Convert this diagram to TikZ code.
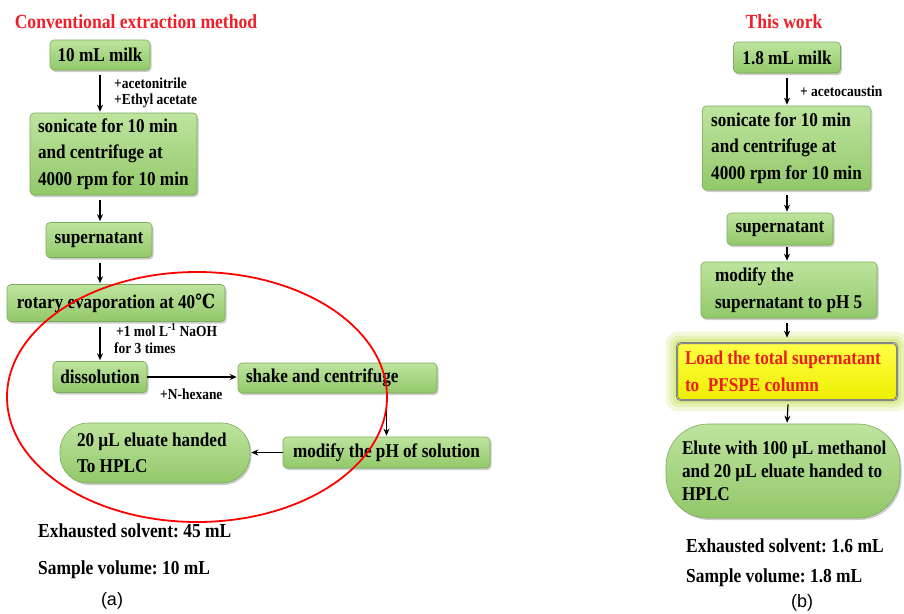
\documentclass[tikz,border=0pt]{standalone}
\usepackage{fontspec}
\setmainfont{Liberation Serif}[FakeStretch=0.88]
\setsansfont{Liberation Sans}
\newfontfamily\dejavu{DejaVu Serif}[FakeStretch=0.85]
\usetikzlibrary{arrows.meta,shadows,calc,backgrounds}
\definecolor{gtop}{RGB}{190,228,158}
\definecolor{gbot}{RGB}{146,200,106}
\definecolor{gline}{RGB}{122,172,90}
\definecolor{titred}{RGB}{240,30,40}
\definecolor{glow}{RGB}{205,230,110}
\newcommand\lw[2]{\makebox[#1][l]{#2}}
\frenchspacing
\begin{document}
\begin{tikzpicture}[x=1pt,y=-1pt,
  gbox/.style={draw=gline, line width=0.6pt, rounded corners=4pt,
    top color=gtop, bottom color=gbot,
    drop shadow={shadow xshift=1.5pt, shadow yshift=-2pt, fill=black!40, opacity=0.5},
    font=\fontsize{19.5}{26.5}\selectfont\bfseries, inner ysep=0pt, align=left},
  pill/.style={gbox, rounded corners=#1},
  arr/.style={-{Stealth[length=7pt,width=6pt]}, line width=1.2pt, shorten <=5pt, shorten >=1pt},
  lab/.style={font=\fontsize{15.3}{18}\selectfont\bfseries, anchor=west, inner sep=0pt, align=left},
  title/.style={font=\fontsize{20}{24}\selectfont\bfseries, text=titred, inner sep=0pt},
  foot/.style={font=\fontsize{19.8}{24}\selectfont\bfseries, anchor=west, inner sep=0pt},
  sub/.style={font=\sffamily\fontsize{18}{22}\selectfont, inner sep=0pt}
]
\useasboundingbox (0,0) rectangle (904,613);

% ---------- (a) ----------
\node[title] (tA) at (136,22) {Conventional extraction method};
\node[gbox, minimum width=100pt, minimum height=30pt] (milkA) at (100,55) {10 mL milk};
\node[gbox, inner xsep=8pt, minimum height=82pt] (sonA) at (113.5,154) {\lw{151pt}{sonicate for 10 min}\\and centrifuge at\\4000 rpm for 10 min};
\node[gbox, minimum width=106pt, minimum height=35pt] (supA) at (99,240) {supernatant};
\node[gbox, minimum width=218pt, minimum height=37pt] (rotA) at (116,303) {rotary evaporation at 40{\dejavu ℃}};
\node[gbox, minimum width=94pt, minimum height=31pt] (disA) at (100,377) {dissolution};
\node[gbox, inner xsep=8pt, minimum height=30pt] (shakeA) at (337.5,378) {\lw{183pt}{shake and centrifuge}};
\node[gbox, minimum width=207pt, minimum height=31pt] (modA) at (386.5,452.5) {modify the pH of solution};
\node[pill=28pt, inner xsep=17pt, minimum height=60pt] (eluA) at (155,453) {\lw{156pt}{20 µL eluate handed}\\To HPLC};

\draw[arr] (milkA.south) -- (milkA.south |- sonA.north);
\draw[arr] (sonA.south -| milkA.south) -- (supA.north -| milkA.south);
\draw[arr] (supA.south -| milkA.south) -- (rotA.north -| milkA.south);
\draw[arr] (rotA.south -| milkA.south) -- (disA.north -| milkA.south);
\draw[arr, shorten <=0pt] (disA.east) -- (disA.east -| shakeA.west);
\draw[arr, shorten <=0pt] (shakeA.south -| modA.north) -- (modA.north);
\draw[arr, shorten <=0pt] (modA.west) -- (modA.west -| eluA.east);

\node[lab] (l1) at (114,83) {+acetonitrile};
\node[lab] (l2) at (114,101) {+Ethyl acetate};
\node[lab] (l3) at (116,330) {+1 mol L\textsuperscript{-1} NaOH};
\node[lab] (l4) at (114,348) {for 3 times};
\node[lab] (l5) at (160,394) {+N-hexane};

\draw[red, line width=1.8pt] (197,397) ellipse [x radius=190pt, y radius=125pt];

\node[foot] (fA1) at (38,531) {Exhausted solvent: 45 mL};
\node[foot] (fA2) at (38,570) {Sample volume: 10 mL};
\node[sub] (sA) at (112,601) {(a)};

% ---------- (b) ----------
\node[title] (tB) at (784,22) {This work};
\node[gbox, minimum width=107pt, minimum height=31pt] (milkB) at (787,57.5) {1.8 mL milk};
\node[gbox, inner xsep=9pt, minimum height=84pt] (sonB) at (786.5,148) {\lw{149pt}{sonicate for 10 min}\\and centrifuge at\\4000 rpm for 10 min};
\node[gbox, minimum width=106pt, minimum height=32pt] (supB) at (780,229) {supernatant};
\node[gbox, inner xsep=14pt, minimum height=56pt] (modB) at (789,290) {\lw{148pt}{modify the}\\supernatant to pH 5};
\node[draw=black!60, double=black!25, double distance=0.8pt, line width=0.6pt, rounded corners=4pt,
  top color={rgb,255:red,255;green,255;blue,70}, bottom color={rgb,255:red,238;green,238;blue,0},
  font=\fontsize{19.5}{26.5}\selectfont\bfseries, text={rgb,255:red,235;green,30;blue,30},
  align=left, inner xsep=8pt, inner ysep=0pt, minimum height=57pt] (loadB) at (787,371.5)
  {\lw{204pt}{Load the total supernatant}\\to~~PFSPE column};
\node[pill=42pt, inner xsep=16pt, minimum height=94pt, font=\fontsize{19.5}{23}\selectfont\bfseries] (eluB) at (783,471)
  {\lw{202pt}{Elute with 100 µL methanol}\\and 20 µL eluate handed to\\HPLC};

\begin{scope}[on background layer]
  \fill[glow, opacity=0.25, rounded corners=12pt] ($(loadB.north west)+(-11,-11)$) rectangle ($(loadB.south east)+(11,11)$);
  \fill[glow, opacity=0.35, rounded corners=9pt] ($(loadB.north west)+(-7,-7)$) rectangle ($(loadB.south east)+(7,7)$);
  \fill[glow, opacity=0.5, rounded corners=6pt] ($(loadB.north west)+(-3.5,-3.5)$) rectangle ($(loadB.south east)+(3.5,3.5)$);
\end{scope}

\draw[arr] (milkB.south) -- (milkB.south |- sonB.north);
\draw[arr] (sonB.south -| milkB.south) -- (supB.north -| milkB.south);
\draw[arr, shorten <=2pt] (supB.south -| milkB.south) -- (modB.north -| milkB.south);
\draw[arr] (modB.south -| milkB.south) -- ($(loadB.north -| milkB.south)+(0,-4)$);
\draw[arr, shorten <=0pt] ($(loadB.south -| milkB.south)+(1,4)$) -- (eluB.north -| loadB.south);

\node[lab] (l6) at (800,91) {+ acetocaustin};

\node[foot] (fB1) at (686,546) {Exhausted solvent: 1.6 mL};
\node[foot] (fB2) at (686,578) {Sample volume: 1.8 mL};
\node[sub] (sB) at (802,603) {(b)};
\end{tikzpicture}
\end{document}
